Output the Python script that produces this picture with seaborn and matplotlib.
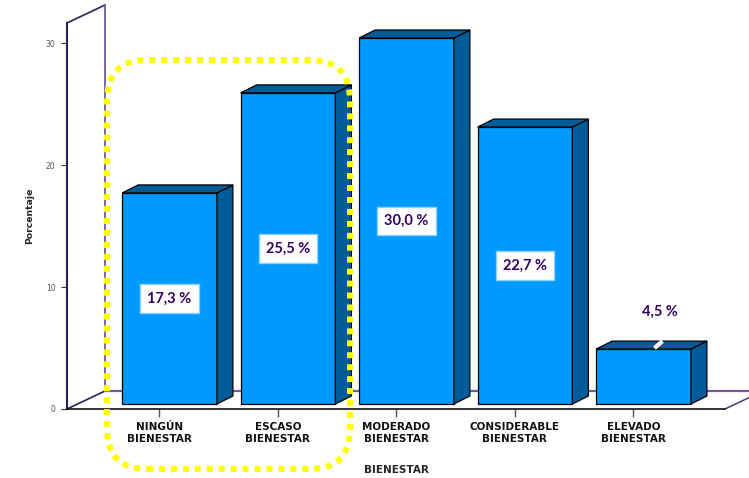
import matplotlib
matplotlib.use("Agg")
import matplotlib.pyplot as plt
from matplotlib.patches import Polygon, FancyBboxPatch
from matplotlib.transforms import IdentityTransform
import seaborn as sns

# Distribución del nivel de bienestar (%)
categorias = ["NINGÚN\nBIENESTAR", "ESCASO\nBIENESTAR", "MODERADO\nBIENESTAR",
              "CONSIDERABLE\nBIENESTAR", "ELEVADO\nBIENESTAR"]
valores = [17.3, 25.5, 30.0, 22.7, 4.5]
etiquetas = ["17,3 %", "25,5 %", "30,0 %", "22,7 %", "4,5 %"]
yticks = [0, 10, 20, 30]

sns.set_style("white")
plt.rcParams["font.family"] = ["DejaVu Sans"]

W, H = 749, 478
fig = plt.figure(figsize=(W / 100, H / 100), dpi=100)
fig.patch.set_facecolor("white")

# front plane of the 3D box, in pixels
left_px, right_px, bottom_px, top_px = 67, 725, 409, 23
ax = fig.add_axes([left_px / W, (H - bottom_px) / H,
                   (right_px - left_px) / W, (bottom_px - top_px) / H])

sns.barplot(x=categorias, y=valores, color="#0099FF", saturation=1,
            width=0.8, edgecolor="black", linewidth=0.9, ax=ax, zorder=3)

xlim = (-0.779, 4.774)
ylim = (0, 31.64)
ax.set_xlim(*xlim)
ax.set_ylim(*ylim)

# data units per pixel
px_x = (xlim[1] - xlim[0]) / (right_px - left_px)
px_y = (ylim[1] - ylim[0]) / (bottom_px - top_px)

# depth of the floor / wall and of each bar
deep_x, deep_y = 38 * px_x, 18 * px_y
bar_ox, bar_oy = 10.2 * px_x, 5 * px_y
bar_dx, bar_dy = 16 * px_x, 8 * px_y

side_col = "#005C99"
wall_dark = "#2B1F5C"
wall_light = "#6F5B9B"

# left wall and floor edges
x0, x1 = xlim
ax.plot([x0, x0 + deep_x], [ylim[1], ylim[1] + deep_y], color=wall_dark, lw=1.2, clip_on=False, zorder=1)
ax.plot([x0 + deep_x, x0 + deep_x], [deep_y, ylim[1] + deep_y], color=wall_light, lw=1.3, clip_on=False, zorder=1)
ax.plot([x0, x0 + deep_x], [0, deep_y], color=wall_dark, lw=1.2, clip_on=False, zorder=1)
ax.plot([x0 + deep_x, x1 + 2 * deep_x], [deep_y, deep_y], color=wall_light, lw=1.6, clip_on=False, zorder=1)
ax.plot([x1, x1 + 2 * deep_x], [0, 2 * deep_y], color="#4B3A80", lw=1.1, clip_on=False, zorder=1)

# extrude the seaborn bars into boxes
bars = list(ax.patches)
for i, rect in enumerate(bars):
    bx = rect.get_x() + bar_ox
    w = rect.get_width()
    h = rect.get_height()
    rect.set_x(bx)
    rect.set_y(bar_oy)
    y_top = bar_oy + h
    side = Polygon([(bx + w, bar_oy), (bx + w + bar_dx, bar_oy + bar_dy),
                    (bx + w + bar_dx, y_top + bar_dy), (bx + w, y_top)],
                   closed=True, facecolor=side_col, edgecolor="black", lw=0.9, zorder=3)
    top = Polygon([(bx, y_top), (bx + bar_dx, y_top + bar_dy),
                   (bx + w + bar_dx, y_top + bar_dy), (bx + w, y_top)],
                  closed=True, facecolor=side_col, edgecolor="black", lw=0.9, zorder=3)
    ax.add_patch(side)
    ax.add_patch(top)

    txt_kw = dict(ha="center", va="center", fontsize=10.5, fontweight="bold",
                  family=["Lato", "DejaVu Sans"], color="#330066", zorder=5)
    if valores[i] > 8:
        ax.text(bx + w / 2, bar_oy + h / 2, etiquetas[i],
                bbox=dict(boxstyle="square,pad=0.5", facecolor="white",
                          edgecolor="#8FD0FF", lw=1.0), **txt_kw)
    else:
        cx = bx + w / 2 + bar_dx
        ax.text(cx, y_top + 37 * px_y, etiquetas[i], **txt_kw)
        ax.plot([cx - 5 * px_x, cx + 3 * px_x], [y_top + 1 * px_y, y_top + 8 * px_y],
                color="white", lw=3, solid_capstyle="butt", zorder=4)

# axes styling
for s in ["top", "right"]:
    ax.spines[s].set_visible(False)
ax.spines["left"].set_color(wall_dark)
ax.spines["left"].set_linewidth(1.5)
ax.spines["bottom"].set_color("#111111")
ax.spines["bottom"].set_linewidth(1.2)

ax.set_yticks(yticks)
ax.tick_params(axis="y", direction="out", length=4.3, width=0.8, color="#333333",
               labelsize=5.5, labelcolor="#555555", pad=4, left=True)
ax.tick_params(axis="x", direction="out", length=5.5, width=1.0, color="#555555",
               labelsize=7.5, labelcolor="#111111", pad=4, bottom=True)
for lab in ax.get_xticklabels():
    lab.set_fontweight("bold")
    lab.set_linespacing(1.25)

ax.set_ylabel("Porcentaje", fontsize=6.7, fontweight="bold", labelpad=8)
ax.set_xlabel("BIENESTAR", fontsize=7.5, fontweight="bold", labelpad=15)
ax.grid(False)

# highlight frame around the first two categories
hl = FancyBboxPatch((107, H - 469), 350 - 107, 469 - 60,
                    boxstyle="round,pad=0,rounding_size=40",
                    transform=IdentityTransform(), fill=False,
                    edgecolor="#FFFF00", lw=4.3, linestyle=(0, (1.0, 1.0)),
                    capstyle="butt", zorder=10)
fig.add_artist(hl)

fig.savefig("out.png", dpi=100)
